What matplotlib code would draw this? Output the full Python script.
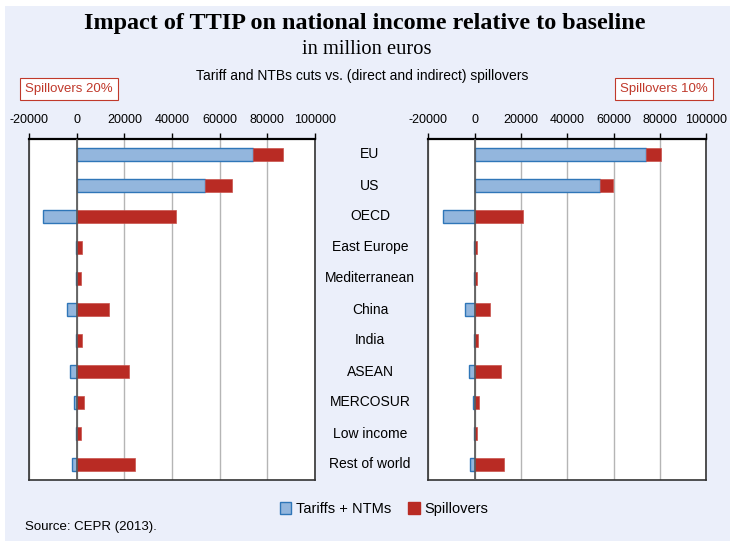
import matplotlib.pyplot as plt
from matplotlib.patches import Rectangle, Patch
from matplotlib.transforms import blended_transform_factory

plt.rcParams["axes.unicode_minus"] = False

regions = ["EU", "US", "OECD", "East Europe", "Mediterranean", "China",
           "India", "ASEAN", "MERCOSUR", "Low income", "Rest of world"]

# tariffs + NTMs and spillovers, million euros
tariffs_20 = [74000, 54000, -14000, -400, -200, -4200, -300, -2700, -1100, -200, -2000]
spill_20 = [12600, 11200, 41500, 2100, 1950, 13400, 2400, 21800, 2900, 1950, 24400]

tariffs_10 = [74000, 54000, -13700, -300, -300, -4200, -200, -2700, -900, -200, -2000]
spill_10 = [6600, 5800, 20900, 1150, 1100, 6600, 1400, 11200, 1700, 1150, 12400]

xticks = [-20000, 0, 20000, 40000, 60000, 80000, 100000]

BLUE = "#93b6dd"
BLUE_EDGE = "#2f76b8"
RED = "#b92b24"
BG = "#ebeffa"

fig = plt.figure(figsize=(7.3, 5.41), dpi=100)
fig.patch.set_facecolor("white")
# light background panel
fig.patches.append(Rectangle((5 / 730, 0), 1, 1 - 6 / 541, transform=fig.transFigure,
                             facecolor=BG, edgecolor="none", zorder=-10))

fig.text(365 / 730, 1 - 24 / 541, "Impact of TTIP on national income relative to baseline",
         ha="center", va="center", family="Liberation Serif", weight="bold", fontsize=17.4)
fig.text(367 / 730, 1 - 49 / 541, "in million euros", ha="center", va="center",
         family="Liberation Serif", fontsize=14.8)
fig.text(362 / 730, 1 - 76 / 541, "Tariff and NTBs cuts vs. (direct and indirect) spillovers",
         ha="center", va="center", family="Liberation Sans", fontsize=10)


def panel(rect, tariffs, spill):
    ax = fig.add_axes(rect)
    y = list(range(len(regions)))
    lefts = [max(t, 0) for t in tariffs]
    ax.barh(y, tariffs, height=0.41, color=BLUE, edgecolor=BLUE_EDGE, linewidth=1, zorder=3)
    ax.barh(y, spill, left=lefts, height=0.41, color=RED, edgecolor="#c9524c", linewidth=0.5, zorder=3)
    ax.set_xlim(-20000, 100000)
    ax.set_ylim(10.5, -0.5)
    ax.set_yticks([])
    ax.set_xticks(xticks)
    ax.xaxis.tick_top()
    ax.tick_params(axis="x", direction="out", length=4, width=1, labelsize=9, pad=5.5)
    for lab in ax.get_xticklabels():
        lab.set_family("Liberation Sans")
    ax.grid(axis="x", color="#b5b5b5", linewidth=1, zorder=0)
    ax.axvline(0, color="#555555", linewidth=1.2, zorder=4)
    for s in ["left", "right", "bottom"]:
        ax.spines[s].set_color("#333333")
        ax.spines[s].set_linewidth(1.2)
    ax.spines["top"].set_color("black")
    ax.spines["top"].set_linewidth(1.6)
    ax.set_facecolor("white")
    return ax


ax1 = panel([29 / 730, 1 - 480 / 541, 286 / 730, 341 / 541], tariffs_20, spill_20)
ax2 = panel([428.5 / 730, 1 - 480 / 541, 277.8 / 730, 341 / 541], tariffs_10, spill_10)

# category labels in the middle
tr = blended_transform_factory(fig.transFigure, ax1.transData)
for i, r in enumerate(regions):
    ax1.text(370 / 730, i, r, transform=tr, ha="center", va="center",
             family="Liberation Sans", fontsize=10, clip_on=False)

box = dict(boxstyle="square,pad=0.38", facecolor="white", edgecolor="#c0392b", linewidth=0.8)
fig.text(69 / 730, 1 - 89 / 541, "Spillovers 20%", ha="center", va="center",
         color="#c0392b", family="Liberation Sans", fontsize=9.5, bbox=box)
fig.text(664 / 730, 1 - 89 / 541, "Spillovers 10%", ha="center", va="center",
         color="#c0392b", family="Liberation Sans", fontsize=9.5, bbox=box)

handles = [Patch(facecolor=BLUE, edgecolor=BLUE_EDGE, label="Tariffs + NTMs"),
           Patch(facecolor=RED, edgecolor=RED, label="Spillovers")]
fig.legend(handles=handles, loc="center", bbox_to_anchor=(384 / 730, 1 - 509 / 541),
           ncol=2, frameon=False, handlelength=0.8, handleheight=0.8, handletextpad=0.3,
           columnspacing=1.2, prop={"family": "Liberation Sans", "size": 10.5})

fig.text(25 / 730, 1 - 527 / 541, "Source: CEPR (2013).", ha="left", va="center",
         family="Liberation Sans", fontsize=9.5)

fig.savefig("out.png", dpi=100, facecolor=fig.get_facecolor())
